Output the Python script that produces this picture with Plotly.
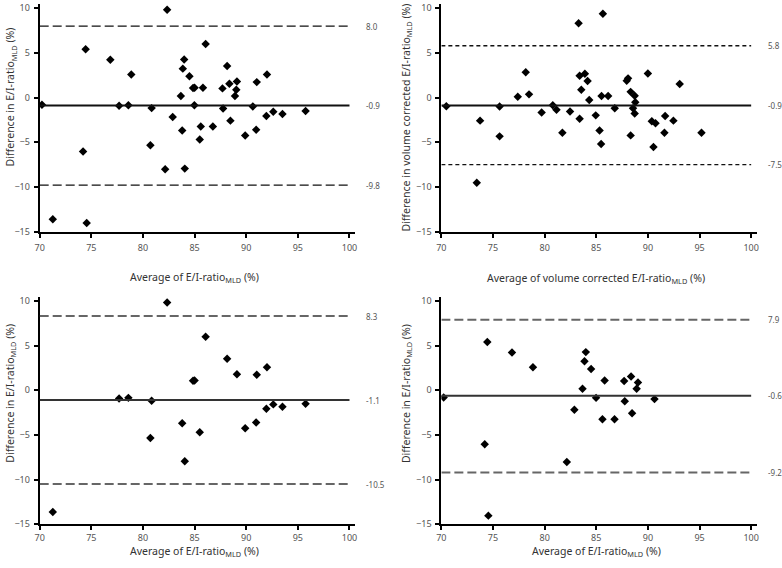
import plotly.graph_objects as go

# ---------------- data ----------------
# Panel A: all subjects, E/I-ratio MLD
a_avg = [70.22, 71.27, 74.55, 74.45, 74.20, 76.84, 78.87, 77.69, 78.59, 80.84,
         80.72, 82.34, 82.15, 82.88, 83.67, 83.86, 83.99, 84.50, 83.80, 84.05,
         84.85, 85.00, 84.98, 85.60, 85.50, 85.81, 86.77, 86.07, 87.70, 87.76,
         88.15, 88.37, 88.47, 88.91, 89.04, 89.10, 89.90, 90.64, 90.96, 91.02,
         92.01, 91.95, 92.62, 93.51, 95.75]
a_diff = [-0.81, -13.62, -14.03, 5.41, -6.04, 4.23, 2.58, -0.92, -0.85, -1.18,
          -5.34, 9.83, -8.03, -2.17, 0.18, 3.24, 4.27, 2.39, -3.68, -7.95,
          1.07, 1.10, -0.85, -3.24, -4.70, 1.10, -3.24, 6.00, 1.03, -1.22,
          3.53, 1.55, -2.58, 0.18, 0.88, 1.80, -4.24, -0.99, -3.60, 1.73,
          2.58, -2.06, -1.58, -1.84, -1.51]

# Panel B: volume corrected E/I-ratio MLD
b_avg = [70.48, 73.43, 73.75, 75.64, 75.64, 77.40, 78.17, 78.49, 79.71, 80.79,
         81.15, 81.72, 82.46, 83.29, 83.39, 83.39, 83.55, 83.90, 84.16, 84.32,
         84.95, 85.32, 85.47, 85.64, 85.51, 86.15, 86.79, 87.95, 88.08, 88.33,
         88.72, 88.78, 88.56, 88.72, 88.33, 90.00, 90.38, 90.74, 91.67, 91.60,
         90.54, 92.47, 93.08, 95.19]
b_diff = [-0.97, -9.54, -2.58, -0.99, -4.34, 0.10, 2.84, 0.36, -1.66, -0.85,
          -1.37, -3.94, -1.55, 8.31, 2.44, -2.36, 0.87, 2.66, 1.85, -0.27,
          -1.99, -3.68, -5.20, 9.37, 0.17, 0.17, -1.19, 1.89, 2.15, 0.64,
          0.21, -0.53, -1.19, -1.77, -4.23, 2.69, -2.65, -2.87, -2.07, -3.94,
          -5.52, -2.58, 1.52, -3.94]

# Panel C: subgroup 1
c_avg = [82.34, 77.69, 78.59, 80.84, 80.72, 71.27, 84.85, 85.00, 83.80, 84.05,
         85.50, 86.07, 88.15, 89.10, 89.90, 90.96, 91.02, 92.01, 91.95, 92.62,
         93.51, 95.75]
c_diff = [9.83, -0.92, -0.85, -1.18, -5.34, -13.62, 1.07, 1.10, -3.68, -7.95,
          -4.70, 6.00, 3.53, 1.80, -4.24, -3.60, 1.73, 2.58, -2.06, -1.58,
          -1.84, -1.51]

# Panel D: subgroup 2
d_avg = [70.22, 74.55, 74.45, 74.20, 76.84, 78.87, 82.15, 82.88, 83.67, 83.86,
         83.99, 84.50, 84.98, 85.60, 85.81, 86.77, 87.70, 87.76, 88.37, 88.47,
         88.91, 89.04, 90.64]
d_diff = [-0.81, -14.03, 5.41, -6.04, 4.23, 2.58, -8.03, -2.17, 0.18, 3.24,
          4.27, 2.39, -0.85, -3.24, 1.10, -3.24, 1.03, -1.22, 1.55, -2.58,
          0.18, 0.88, -0.99]

# mean difference and limits of agreement per panel (upper, mean, lower)
a_lines = [8.0, -0.9, -9.8]
b_lines = [5.8, -0.9, -7.5]
c_lines = [8.3, -1.1, -10.5]
d_lines = [7.9, -0.6, -9.2]

x_ticks = [70, 75, 80, 85, 90, 95, 100]
y_ticks = [-15, -10, -5, 0, 5, 10]

XT_PLAIN = "Average of E/I-ratio<sub>MLD</sub> (%)"
XT_VOL = "Average of volume corrected E/I-ratio<sub>MLD</sub> (%)"
YT_PLAIN = "Difference in E/I-ratio<sub>MLD</sub> (%)"
YT_VOL = "Difference in volume corrected E/I-ratio<sub>MLD</sub> (%)"

# ---------------- layout helpers ----------------
W, H = 782, 568
FONT = "Noto Sans"
TICKC = "#555555"
TEXTC = "#333333"


def px_x(p):
    return p / W


def px_y(p):
    return 1 - p / H


panels = [
    dict(avg=a_avg, diff=a_diff, lines=a_lines, xt=XT_PLAIN, yt=YT_PLAIN,
         left=35, bottom=232.3, yr=[-15, 10.5], dash="9px,4px", lc="#111111", lw=1.3,
         mc="#111111", xty=269, ytx=6, yty=95, xstand=3),
    dict(avg=b_avg, diff=b_diff, lines=b_lines, xt=XT_VOL, yt=YT_VOL,
         left=440.3, bottom=232.3, yr=[-15, 10.5], dash="4px,3px", lc="#111111", lw=1.3,
         mc="#111111", xty=270, ytx=405, yty=116, xstand=3),
    dict(avg=c_avg, diff=c_diff, lines=c_lines, xt=XT_PLAIN, yt=YT_PLAIN,
         left=35, bottom=529.7, yr=[-15, 10.4], dash="9px,4px", lc="#666666", lw=2,
         mc="#333333", xty=548, ytx=6, yty=396, xstand=0),
    dict(avg=d_avg, diff=d_diff, lines=d_lines, xt=XT_PLAIN, yt=YT_PLAIN,
         left=440.3, bottom=529.7, yr=[-15, 10.4], dash="9px,4px", lc="#666666", lw=2,
         mc="#333333", xty=548, ytx=405, yty=397, xstand=0),
]

XPX = 10.42   # pixels per x unit
YPX = 9.08    # pixels per y unit
XR = [70, 100.55]
LABEL_X = 101.4  # x position (data units) of the value labels right of the lines

fig = go.Figure()
shapes = []
annotations = []
for i, p in enumerate(panels, start=1):
    xa = "x" if i == 1 else f"x{i}"
    ya = "y" if i == 1 else f"y{i}"
    xl = "xaxis" if i == 1 else f"xaxis{i}"
    yl = "yaxis" if i == 1 else f"yaxis{i}"
    right = p["left"] + (XR[1] - XR[0]) * XPX
    top = p["bottom"] - (p["yr"][1] - p["yr"][0]) * YPX
    axis_common = dict(
        showgrid=False, zeroline=False, showline=True, linecolor="black",
        linewidth=2, ticks="outside", ticklen=4, tickwidth=1.5, tickcolor="black",
        tickfont=dict(family=FONT, size=9, color=TICKC),
    )
    fig.update_layout({
        xl: dict(domain=[px_x(p["left"]), px_x(right)], range=XR, anchor=ya,
                 tickvals=x_ticks, ticklabelstandoff=p["xstand"], **axis_common),
        yl: dict(domain=[px_y(p["bottom"]), px_y(top)], range=p["yr"], anchor=xa,
                 tickvals=y_ticks, ticklabelstandoff=2, **axis_common),
    })
    fig.add_trace(go.Scatter(
        x=p["avg"], y=p["diff"], mode="markers", xaxis=xa, yaxis=ya,
        marker=dict(symbol="diamond", size=6.5, color="black"),
        showlegend=False, hoverinfo="x+y"))
    up, mean, lo = p["lines"]
    label_dom = (LABEL_X - XR[0]) / (XR[1] - XR[0])
    for val, is_mean in ((up, False), (mean, True), (lo, False)):
        if is_mean:
            line = dict(color=p["mc"], width=2)
        else:
            line = dict(color=p["lc"], width=p["lw"], dash=p["dash"])
        shapes.append(dict(type="line", xref=xa, yref=ya, x0=70, x1=100,
                           y0=val, y1=val, line=line))
        annotations.append(dict(xref=f"{xa} domain", yref=ya, x=label_dom, y=val,
                                text=f"{val:.1f}", showarrow=False,
                                xanchor="left", yanchor="middle",
                                font=dict(family=FONT, size=8, color=TICKC)))
    # axis titles (anchored by their top edge)
    annotations.append(dict(xref="paper", yref="paper",
                            x=px_x(p["left"] + 15 * XPX), y=px_y(p["xty"]),
                            text=p["xt"], showarrow=False, xanchor="center",
                            yanchor="top",
                            font=dict(family=FONT, size=10.5, color=TEXTC)))
    annotations.append(dict(xref="paper", yref="paper",
                            x=px_x(p["ytx"]), y=px_y(p["yty"]), text=p["yt"],
                            showarrow=False, textangle=-90, xanchor="center",
                            yanchor="middle",
                            font=dict(family=FONT, size=10.5, color=TEXTC)))

fig.update_layout(
    width=W, height=H, margin=dict(l=0, r=0, t=0, b=0),
    paper_bgcolor="white", plot_bgcolor="white",
    shapes=shapes, annotations=annotations,
    font=dict(family=FONT),
)

fig.write_html(
    "out.html",
    config={"displayModeBar": False},
    post_script="document.body.style.margin='0';document.body.style.overflow='hidden';",
)
